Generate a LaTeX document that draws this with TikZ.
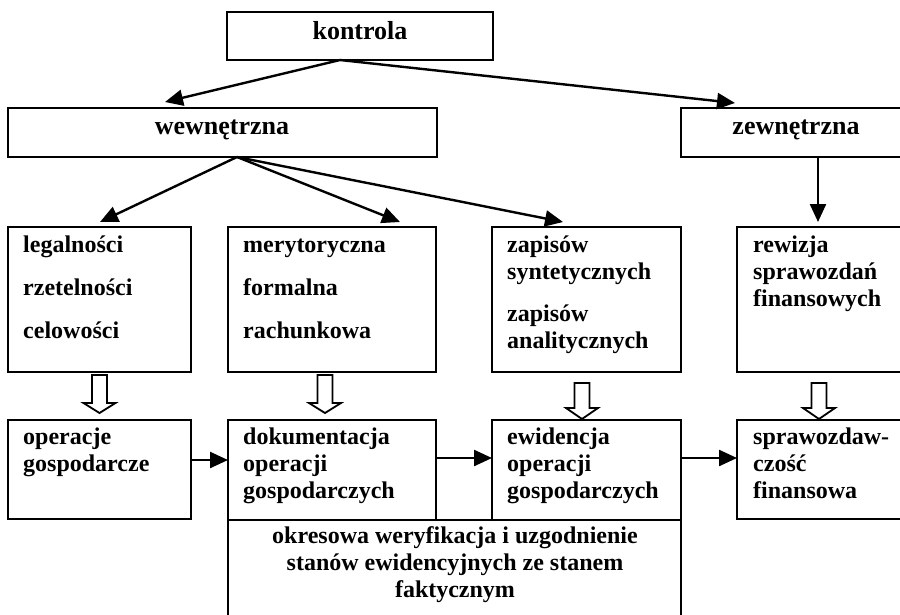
\documentclass[tikz,border=0pt]{standalone}
\usepackage{fontspec}
\setmainfont{Liberation Serif}
\usetikzlibrary{arrows.meta}
\newcommand\hollowarrow[4]{% x, top, base, tip
  \draw[hollow] (#1-7.5,#2) -- (#1-7.5,#3) -- (#1-16,#3) -- (#1,#4) -- (#1+16,#3) -- (#1+7.5,#3) -- (#1+7.5,#2) -- cycle;}
\begin{document}
\begin{tikzpicture}[x=1pt,y=-1pt,
  box/.style={draw, line width=2.2pt, inner sep=0pt, outer sep=0pt, anchor=north west},
  head/.style={font=\fontsize{26}{30}\selectfont\bfseries, anchor=base, inner sep=0pt},
  txt/.style={font=\fontsize{24}{27}\selectfont\bfseries, anchor=base west, inner sep=0pt},
  ctxt/.style={font=\fontsize{24}{27}\selectfont\bfseries, anchor=base, inner sep=0pt},
  conn/.style={line width=2.4pt, -{Triangle[length=18pt,width=16pt]}},
  hollow/.style={line width=1.8pt, line join=miter, fill=white}]
\clip (0,0) rectangle (900,614);
% boxes
\node[box, minimum width=266pt, minimum height=48pt] (K) at (227,12) {};
\node[box, minimum width=429pt, minimum height=49pt] (W) at (8,108) {};
\node[box, minimum width=231pt, minimum height=49pt] (Z) at (681,108) {};
\node[box, minimum width=183pt, minimum height=145pt] (B1) at (8,227) {};
\node[box, minimum width=208pt, minimum height=145pt] (B2) at (228,227) {};
\node[box, minimum width=189pt, minimum height=145pt] (B3) at (492,227) {};
\node[box, minimum width=175pt, minimum height=145pt] (B4) at (737,227) {};
\node[box, minimum width=183pt, minimum height=99pt] (C1) at (8,420) {};
\node[box, minimum width=208pt, minimum height=100pt] (C2) at (228,420) {};
\node[box, minimum width=189pt, minimum height=100pt] (C3) at (492,420) {};
\node[box, minimum width=175pt, minimum height=99pt] (C4) at (737,420) {};
\node[box, minimum width=453pt, minimum height=105pt] (D) at (228,520) {};
% headings
\node[head] (hk) at (360,39) {kontrola};
\node[head] (hw) at (222,134) {wewnętrzna};
\node[head] (hz) at (796,134) {zewnętrzna};
% texts
\node[txt] (b1a) at (23,252) {legalności};
\node[txt] (b1b) at (23,295) {rzetelności};
\node[txt] (b1c) at (23,338) {celowości};
\node[txt] (b2a) at (243,252) {merytoryczna};
\node[txt] (b2b) at (243,295) {formalna};
\node[txt] (b2c) at (243,338) {rachunkowa};
\node[txt] (b3a) at (507,252) {zapisów};
\node[txt] (b3b) at (507,279) {syntetycznych};
\node[txt] (b3c) at (507,321) {zapisów};
\node[txt] (b3d) at (507,348) {analitycznych};
\node[txt] (b4a) at (753,252) {rewizja};
\node[txt] (b4b) at (753,279) {sprawozdań};
\node[txt] (b4c) at (753,306) {finansowych};
\node[txt] (c1a) at (23,444) {operacje};
\node[txt] (c1b) at (23,471) {gospodarcze};
\node[txt] (c2a) at (243,444) {dokumentacja};
\node[txt] (c2b) at (243,471) {operacji};
\node[txt] (c2c) at (243,498) {gospodarczych};
\node[txt] (c3a) at (507,444) {ewidencja};
\node[txt] (c3b) at (507,471) {operacji};
\node[txt] (c3c) at (507,498) {gospodarczych};
\node[txt] (c4a) at (753,444) {sprawozdaw-};
\node[txt] (c4b) at (753,471) {czość};
\node[txt] (c4c) at (753,498) {finansowa};
\node[ctxt] (da) at (455,543) {okresowa weryfikacja i uzgodnienie};
\node[ctxt] (db) at (455,570) {stanów ewidencyjnych ze stanem};
\node[ctxt] (dc) at (455,597) {faktycznym};
% connector ends
\coordinate (ks) at ([xshift=-20pt]K.south);
\coordinate (tW) at (165,102);
\coordinate (tZ) at (735,103);
\coordinate (wo) at ([xshift=14.5pt]W.south);
\coordinate (t1) at (100,222);
\coordinate (t2) at (400,222);
\coordinate (t3) at (563,222);
\coordinate (zo) at ([xshift=21.5pt]Z.south);
\coordinate (t4) at (818,222);
\coordinate (h1) at (0,460);
\coordinate (h2) at (0,458);
\draw[conn] (ks) -- (tW);
\draw[conn] (ks) -- (tZ);
\draw[conn] (wo) -- (t1);
\draw[conn] (wo) -- (t2);
\draw[conn] (wo) -- (t3);
\draw[conn] (zo) -- (t4);
\draw[conn] (C1.east |- h1) -- (C2.west |- h1);
\draw[conn] (C2.east |- h2) -- (C3.west |- h2);
\draw[conn] (C3.east |- h2) -- (C4.west |- h2);
% hollow arrows
\hollowarrow{99.5}{375}{403}{413}
\hollowarrow{325}{375}{403}{413}
\hollowarrow{582}{383}{408}{419}
\hollowarrow{819}{383}{408}{419}
\end{tikzpicture}
\end{document}
